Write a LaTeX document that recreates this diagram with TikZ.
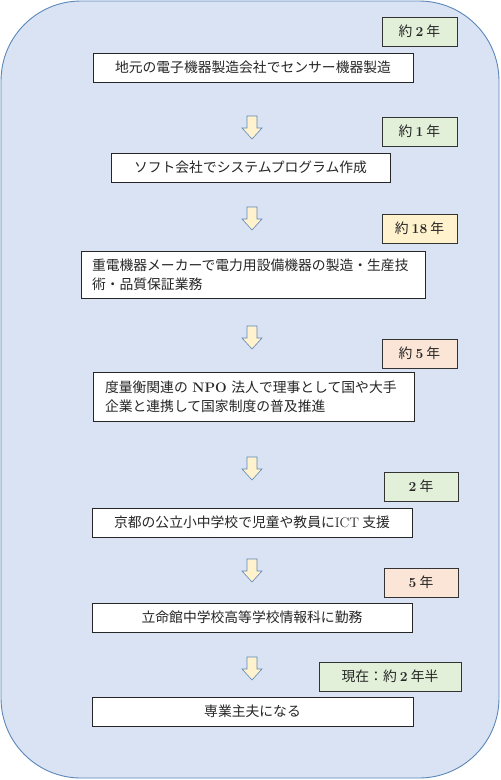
\documentclass[tikz,border=0pt]{standalone}
\usepackage{fontspec}
\newfontfamily\jpfont{Noto Sans CJK JP}
\definecolor{bgblue}{HTML}{DAE3F3}
\definecolor{bgline}{HTML}{5B87B8}
\definecolor{termgreen}{HTML}{E2F0D9}
\definecolor{termyellow}{HTML}{FFF2CC}
\definecolor{termpink}{HTML}{FBE5D6}
\definecolor{arrowfill}{HTML}{FFF2CC}
\newcommand{\latb}[1]{{\rmfamily\bfseries #1}}
\newcommand{\latn}[1]{{\rmfamily #1}}

\begin{document}
\begin{tikzpicture}[x=1pt,y=-1pt,
  jobbox/.style={draw=black!85,fill=white,line width=0.9pt,minimum height=29pt,inner sep=0pt,
    font=\jpfont\fontsize{13.8}{19}\selectfont,text=black!85},
  termbox/.style={draw=black!80,line width=0.9pt,minimum width=75pt,minimum height=29pt,inner sep=0pt,
    font=\jpfont\fontsize{13.8}{17}\selectfont,text=black!85},
  downarrow/.style={draw=bgline,fill=arrowfill,line width=0.6pt,line join=miter}]
\useasboundingbox (0,0) rectangle (501,780);
\draw[draw=bgline,fill=bgblue,line width=0.9pt,rounded corners=80pt] (1,1) rectangle (499,778);

\node[jobbox,minimum width=320pt] (job1) at (253,67.5) {地元の電子機器製造会社でセンサー機器製造};
\node[jobbox,minimum width=279pt] (job2) at (250.5,167.5) {ソフト会社でシステムプログラム作成};
\node[jobbox,minimum height=47pt,inner xsep=11pt,text width=322pt,align=left] (job3) at (253,274.5)
  {重電機器メーカーで電力用設備機器の製造・生産技\\術・品質保証業務};
\node[jobbox,minimum height=49pt,inner xsep=12pt,text width=297pt,align=left] (job4) at (253.5,396.5)
  {度量衡関連の \latb{NPO} 法人で理事として国や大手\\企業と連携して国家制度の普及推進};
\node[jobbox,minimum width=320pt] (job5) at (252,522.5) {京都の公立小中学校で児童や教員に\latn{ICT} 支援};
\node[jobbox,minimum width=320pt] (job6) at (252,617.5) {立命館中学校高等学校情報科に勤務};
\node[jobbox,minimum width=321pt] (job7) at (252.5,711.5) {専業主夫になる};

\node[termbox,fill=termgreen] (term1) at (419.5,31.5) {約 \latb{2} 年};
\node[termbox,fill=termgreen] (term2) at (419.5,131.5) {約 \latb{1} 年};
\node[termbox,fill=termyellow] (term3) at (419.5,228.5) {約 \latb{18} 年};
\node[termbox,fill=termpink] (term4) at (419.5,353.5) {約 \latb{5} 年};
\node[termbox,fill=termgreen,minimum width=74pt] (term5) at (421,486.5) {\latb{2} 年};
\node[termbox,fill=termpink,minimum width=74pt] (term6) at (421,582.5) {\latb{5} 年};
\node[termbox,fill=termgreen,minimum width=142pt] (term7) at (390,676.5) {現在：約 \latb{2} 年半};

\foreach \ay [count=\i] in {116,207,326,457,559,657}
  \draw[downarrow] (247,\ay) coordinate (arr\i) -- ++(10,0) -- ++(0,12) -- ++(5,0) -- ++(-10,11)
    -- ++(-10,-11) -- ++(5,0) -- cycle;
\end{tikzpicture}
\end{document}
